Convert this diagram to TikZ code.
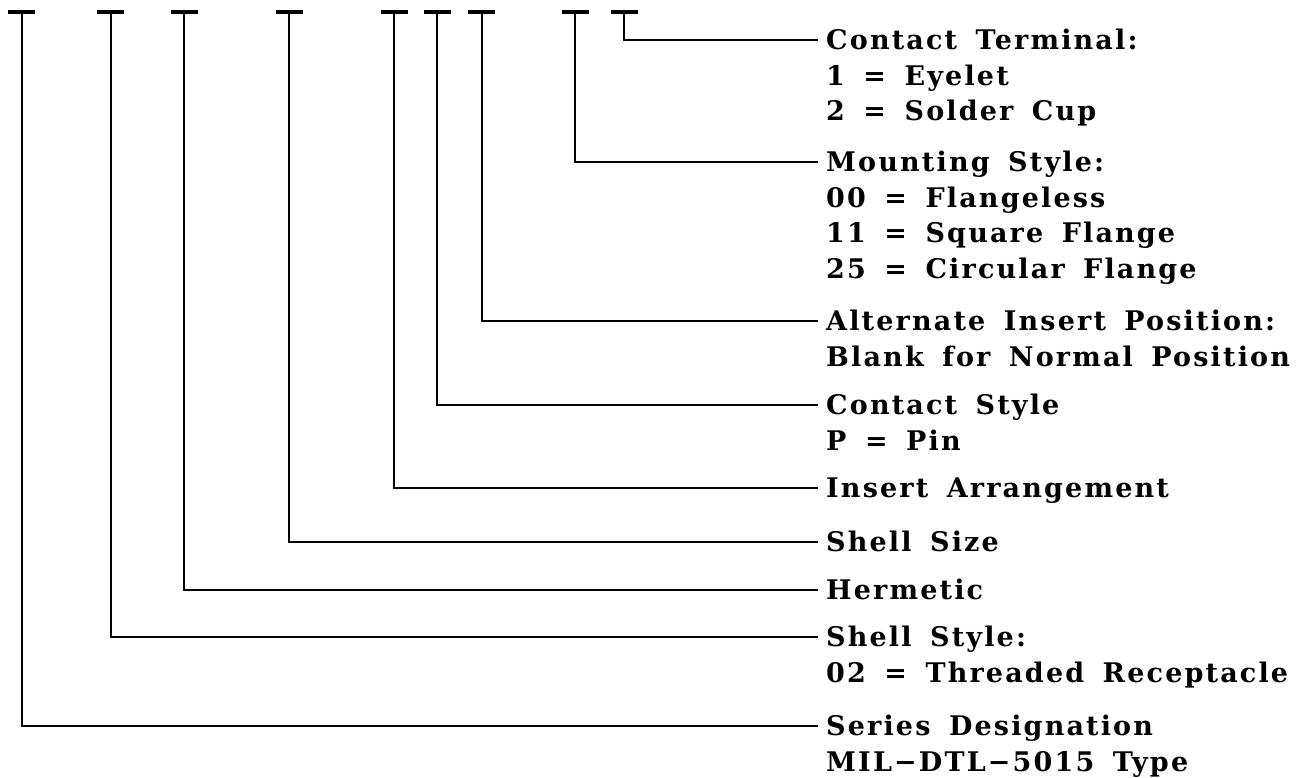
\documentclass[tikz,border=0pt]{standalone}
\usepackage{fontspec}
\newfontfamily\lblfont{DejaVu Serif}[LetterSpace=8,WordSpace=1.6]
\begin{document}
\begin{tikzpicture}[x=1pt,y=-1pt,
  conn/.style={line width=2pt},
  tickbar/.style={line width=3.5pt},
  lbl/.style={anchor=west, inner xsep=8pt, inner ysep=0pt, text height=19.6pt, text depth=0pt,
    font=\lblfont\bfseries\fontsize{27}{32}\selectfont}]
\useasboundingbox (0,0) rectangle (1303,777);
% tick tops
\foreach \n/\x in {1/21.7,2/110.7,3/184,4/289.3,5/394,6/437.3,7/481.7,8/575,9/624.3}{
  \coordinate (t\n) at (\x,12);
  \draw[tickbar] (\x-13.5,12) -- (\x+13.5,12);
}
% labels
\node[lbl] (l1)  at (818,726) {Series Designation};
\node[lbl] (l1b) at (818,761.5) {MIL−DTL−5015 Type};
\node[lbl] (l2)  at (818,637) {Shell Style:};
\node[lbl] (l2b) at (818,672.5) {02 = Threaded Receptacle};
\node[lbl] (l3)  at (818,590) {Hermetic};
\node[lbl] (l4)  at (818,542) {Shell Size};
\node[lbl] (l5)  at (818,488) {Insert Arrangement};
\node[lbl] (l6)  at (818,405) {Contact Style};
\node[lbl] (l6b) at (818,440.5) {P = Pin};
\node[lbl] (l7)  at (818,321) {Alternate Insert Position:};
\node[lbl] (l7b) at (818,356.5) {Blank for Normal Position};
\node[lbl] (l8)  at (818,162) {Mounting Style:};
\node[lbl] (l8b) at (818,197.5) {00 = Flangeless};
\node[lbl] (l8c) at (818,233) {11 = Square Flange};
\node[lbl] (l8d) at (818,268.5) {25 = Circular Flange};
\node[lbl] (l9)  at (818,40) {Contact Terminal:};
\node[lbl] (l9b) at (818,75.5) {1 = Eyelet};
\node[lbl] (l9c) at (818,111) {2 = Solder Cup};
% connectors
\foreach \n in {1,...,9}{
  \draw[conn] (t\n) |- (l\n.west);
}
\end{tikzpicture}
\end{document}
